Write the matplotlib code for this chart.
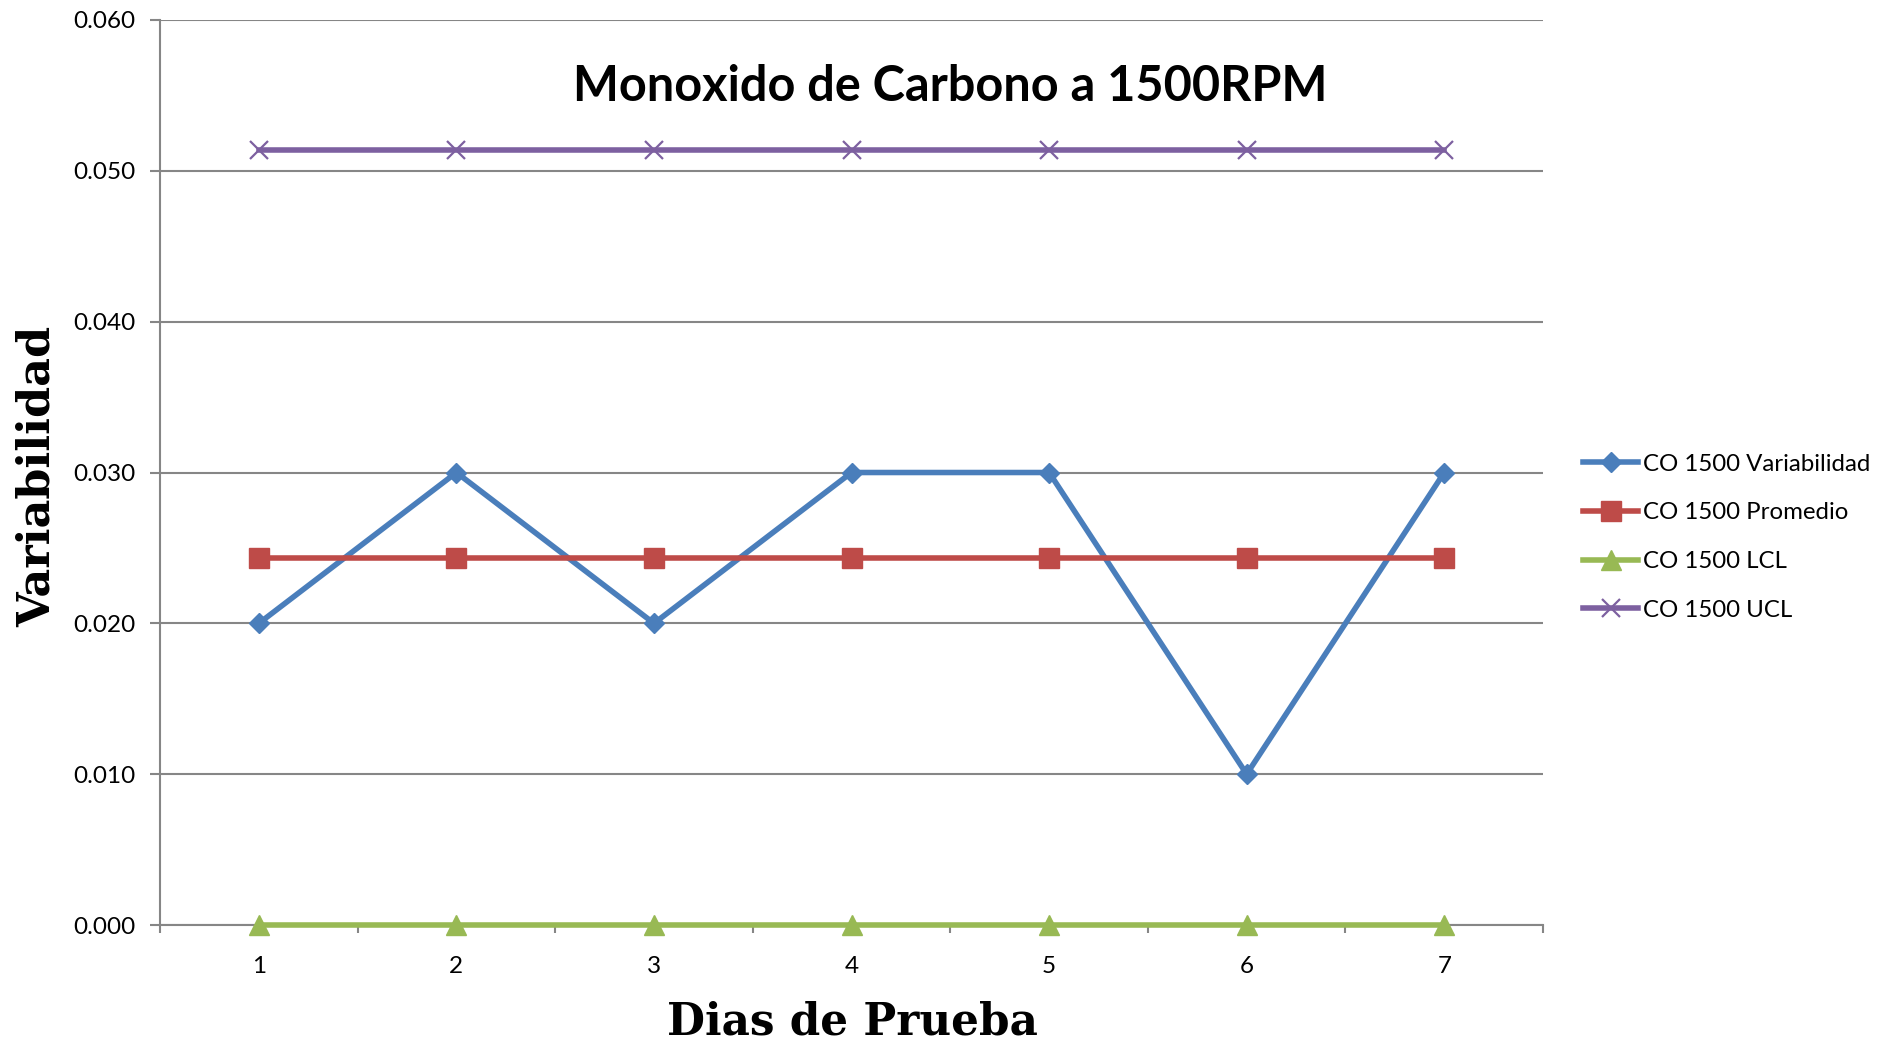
import numpy as np
import matplotlib.pyplot as plt
from matplotlib.ticker import FixedLocator, FormatStrFormatter

dias = [1, 2, 3, 4, 5, 6, 7]
variabilidad = [0.020, 0.030, 0.020, 0.030, 0.030, 0.010, 0.030]
promedio = [0.0243, 0.0243, 0.0243, 0.0243, 0.0243, 0.0243, 0.0243]
lcl = [0.0, 0.0, 0.0, 0.0, 0.0, 0.0, 0.0]
ucl = [0.0514, 0.0514, 0.0514, 0.0514, 0.0514, 0.0514, 0.0514]
y_ticks = [0.0, 0.01, 0.02, 0.03, 0.04, 0.05, 0.06]

plt.rcParams['font.family'] = ['Lato', 'DejaVu Sans']

fig = plt.figure(figsize=(18.94, 10.41), dpi=100)
ax = fig.add_axes([0.0845, 0.1114, 0.7302, 0.8694])

grid_c = '#868686'
ax.plot(dias, variabilidad, color='#4A7EBB', lw=4, marker='D', ms=10.5,
        label='CO 1500 Variabilidad', clip_on=False, zorder=3)
ax.plot(dias, promedio, color='#BE4B48', lw=4, marker='s', ms=14,
        label='CO 1500 Promedio', clip_on=False, zorder=4)
ax.plot(dias, lcl, color='#98B954', lw=4, marker='^', ms=14.5,
        label='CO 1500 LCL', clip_on=False, zorder=5)
ax.plot(dias, ucl, color='#7D60A0', lw=4, marker='x', ms=13.5, mew=1.6,
        label='CO 1500 UCL', clip_on=False, zorder=6)

ax.set_xlim(0.5, 7.5)
ax.set_ylim(0, 0.06)
ax.set_yticks(y_ticks)
ax.yaxis.set_major_formatter(FormatStrFormatter('%.3f'))
ax.set_xticks(dias)
ax.xaxis.set_minor_locator(FixedLocator(np.arange(0.5, 8.0, 1.0)))
ax.grid(axis='y', color=grid_c, lw=1.5)
ax.set_axisbelow(True)

for s in ['top', 'right']:
    ax.spines[s].set_visible(False)
for s in ['left', 'bottom']:
    ax.spines[s].set_color(grid_c)
    ax.spines[s].set_linewidth(1.5)

ax.tick_params(axis='y', length=7, width=1.5, color=grid_c, pad=11, labelsize=17.5)
ax.tick_params(axis='x', which='major', length=0, pad=22, labelsize=17.5)
ax.tick_params(axis='x', which='minor', length=6, width=1.5, color=grid_c)

fig.text(0.5016, 0.903, 'Monoxido de Carbono a 1500RPM', ha='center', va='baseline',
         fontsize=35, fontweight='bold')
fig.text(0.0196, 0.542, 'Variabilidad', rotation=90, ha='center', va='center',
         fontsize=32, fontweight='bold', family='DejaVu Serif')
fig.text(0.45, 0.006, 'Dias de Prueba', ha='center', va='baseline',
         fontsize=31.5, fontweight='bold', family='DejaVu Serif')

ax.legend(loc='center left', bbox_to_anchor=(0.8358, 0.484), bbox_transform=fig.transFigure,
          frameon=False, fontsize=17.3, handlelength=2.3, handletextpad=0.2,
          labelspacing=1.15, borderpad=0, borderaxespad=0)

fig.savefig('out.png', dpi=100)
